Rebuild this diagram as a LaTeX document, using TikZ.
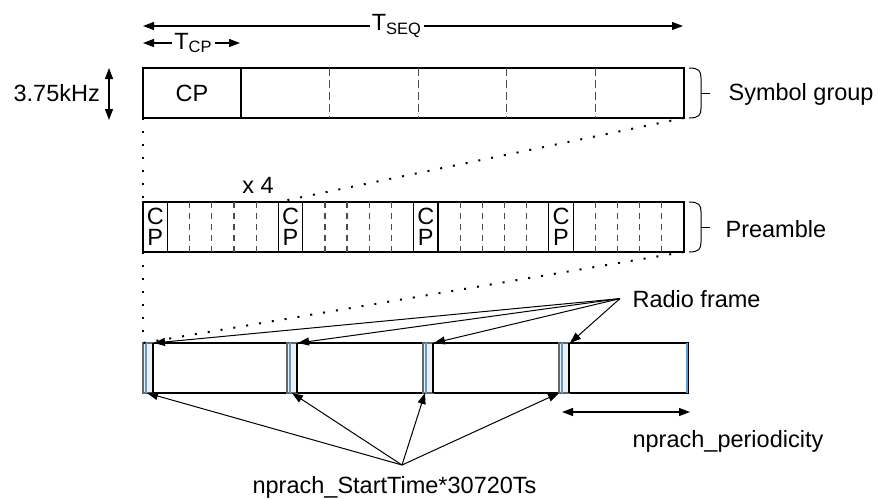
\documentclass[tikz,border=0pt]{standalone}
\usepackage{fontspec}
\setmainfont{Liberation Sans}
\usepackage{xcolor}
\definecolor{frameblue}{rgb}{0.36,0.61,0.84}
\definecolor{markgray}{rgb}{0.94,0.94,0.94}
\usetikzlibrary{arrows.meta}
\usetikzlibrary{positioning}
\usetikzlibrary{calc}

\begin{document}
\begin{tikzpicture}[x=0.5pt, y=-0.5pt, line width=0.6pt,
	every node/.style={font=\fontsize{11.75}{13}\selectfont, inner sep=1pt},
	box/.style={draw, inner sep=0pt, outer sep=0pt, anchor=north west, minimum height=25pt},
	dimarrow/.style={{Triangle[length=5.5pt,width=4pt]}-{Triangle[length=5.5pt,width=4pt]}},
	ptr/.style={-{Triangle[length=5.5pt,width=4pt]}, line width=0.5pt},
	dotline/.style={dash pattern=on 1pt off 5.5pt, line width=1pt},
	symdash/.style={draw=black!70, dash pattern=on 4pt off 2pt},
	predash/.style={draw=black!70, dash pattern=on 3pt off 2.5pt},
	cptext/.style={font=\fontsize{11.75}{10.5}\selectfont, align=center, inner sep=0pt},
	brace/.style={line width=0.5pt}]
	\useasboundingbox (0,0) rectangle (878,498);

	% Symbol group
	\node[box, minimum width=270.5pt] (symgrp) at (143,68) {};
	\draw (241,68) -- (241,118);
	\foreach \k in {1,...,4}
		\draw[symdash] ({241+88.6*\k},68) -- ++(0,50);
	\node (cp) at (192,93) {CP};

	% durations
	\coordinate (tseq-l) at (143,26);
	\coordinate (tseq-r) at (683,26);
	\draw[dimarrow] (tseq-l) -- node[fill=white, pos=0.47] (tseq) {T\textsubscript{SEQ}} (tseq-r);
	\coordinate (tcp-l) at (143,43);
	\coordinate (tcp-r) at (240,43);
	\draw[dimarrow] (tcp-l) -- node[fill=white, pos=0.52] (tcp) {T\textsubscript{CP}} (tcp-r);

	% bandwidth
	\node[anchor=base west] (bw) at (11,101) {3.75kHz};
	\coordinate (bw-t) at (109,68);
	\coordinate (bw-b) at (109,120);
	\draw[dimarrow] (bw-t) -- (bw-b);

	% Preamble
	\node[box, minimum width=270.5pt] (pre) at (143,202) {};
	\foreach \g in {0,...,3} {
		\pgfmathsetmacro{\xo}{143+135.25*\g}
		\draw (\xo,202) -- ++(0,50);
		\draw ({\xo+24.5},202) -- ++(0,50);
		\foreach \k in {1,...,4}
			\draw[predash] ({\xo+24.5+22.15*\k},202) -- ++(0,50);
		\node[cptext] (precp\g) at ({\xo+12.25},227) {C\\P};
		\coordinate (pre\g) at (\xo,202);
	}
	\node (times) at (258,185) {x 4};

	% braces
	\foreach \t/\b/\m in {68/118/93, 202/252/227} {
		\draw[brace] (689,\t) .. controls (699,\t) and (701,\t+3) .. (701,\t+10)
			-- (701,\b-10) .. controls (701,\b-3) and (699,\b) .. (689,\b);
		\draw[brace] (701,\m) -- (710,\m);
	}
	\node[anchor=base west] (symlbl) at (726,100) {Symbol group};
	\node[anchor=base west] (prelbl) at (723,237) {Preamble};

	% Radio frames
	\node[box, minimum width=272.5pt] (radio) at (143,343) {};
	\foreach \m/\b [count=\i] in {143/147, 287/292, 423/425, 559/559} {
		\filldraw[fill=markgray, draw=black!60] (\m,343) rectangle ++(10,50);
		\draw[frameblue, line width=1pt] ({\m+3},343) -- ++(0,50);
		\draw[line width=1pt] ({\m+10},343) -- ++(0,50);
		\coordinate (rf\i) at ({\m+11},343);
		\coordinate (st\i) at (\b,393);
	}
	\draw[frameblue, line width=1pt] (687,343) -- (687,393);

	% zoom lines
	\draw[dotline] (symgrp.south west) -- (pre.north west);
	\draw[dotline] (pre.south west) -- (radio.north west);
	\draw[dotline] (symgrp.south east) -- (pre1);
	\draw[dotline] (pre.south east) -- (radio.north west);

	% labels with pointers
	\node[anchor=base west] (rflbl) at (630,307) {Radio frame};
	\coordinate (rfsrc) at ([xshift=-5pt]rflbl.west);
	\foreach \i in {1,...,4}
		\draw[ptr] (rfsrc) -- (rf\i);
	\node[anchor=base west] (stlbl) at (250,493) {nprach\_StartTime*30720Ts};
	\coordinate (stsrc) at (402,465);
	\foreach \i in {1,...,4}
		\draw[ptr] (stsrc) -- (st\i);

	% periodicity
	\coordinate (per-l) at (562,412);
	\coordinate (per-r) at (690,412);
	\draw[dimarrow] (per-l) -- (per-r);
	\node[anchor=base west] (perlbl) at (630,447) {nprach\_periodicity};
\end{tikzpicture}
\end{document}
